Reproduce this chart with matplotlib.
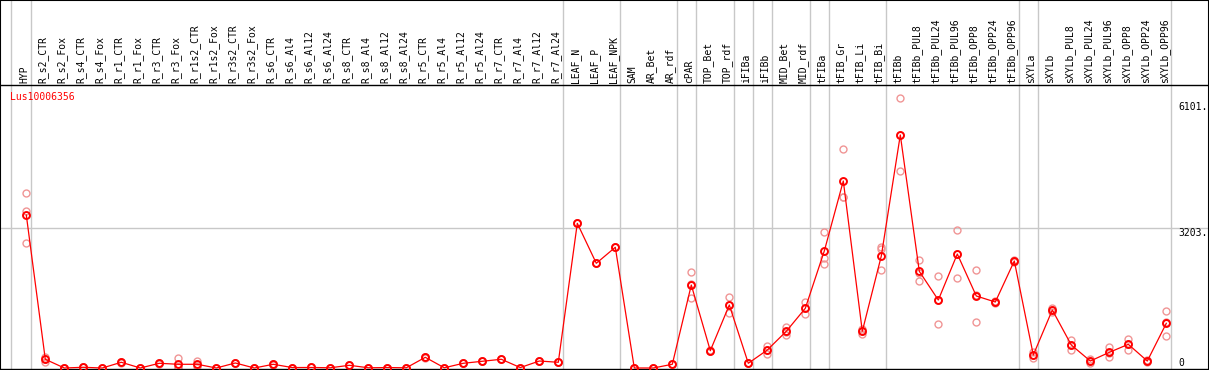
# Expression profile of Lus10006356 across samples

import numpy as np
import matplotlib.pyplot as plt

# Sample names (x axis)
samples = [
    "HYP",
    "R_s2_CTR", "R_s2_Fox", "R_s4_CTR", "R_s4_Fox", "R_r1_CTR", "R_r1_Fox",
    "R_r3_CTR", "R_r3_Fox", "R_r1s2_CTR", "R_r1s2_Fox", "R_r3s2_CTR", "R_r3s2_Fox",
    "R_s6_CTR", "R_s6_Al4", "R_s6_Al12", "R_s6_Al24",
    "R_s8_CTR", "R_s8_Al4", "R_s8_Al12", "R_s8_Al24",
    "R_r5_CTR", "R_r5_Al4", "R_r5_Al12", "R_r5_Al24",
    "R_r7_CTR", "R_r7_Al4", "R_r7_Al12", "R_r7_Al24",
    "LEAF_N", "LEAF_P", "LEAF_NPK",
    "SAM", "AR_Bet", "AR_rdf",
    "cPAR",
    "TOP_Bet", "TOP_rdf",
    "iFIBa", "iFIBb",
    "MID_Bet", "MID_rdf",
    "tFIBa",
    "tFIB_Gr", "tFIB_Li", "tFIB_Bi",
    "tFIBb", "tFIBb_PUL8", "tFIBb_PUL24", "tFIBb_PUL96",
    "tFIBb_OPP8", "tFIBb_OPP24", "tFIBb_OPP96",
    "sXYLa",
    "sXYLb", "sXYLb_PUL8", "sXYLb_PUL24", "sXYLb_PUL96",
    "sXYLb_OPP8", "sXYLb_OPP24", "sXYLb_OPP96",
]

# Number of samples in each group (separated by gray lines)
group_sizes = [1, 28, 3, 3, 1, 2, 1, 1, 2, 1, 3, 7, 1, 7]

# Mean expression
means = [3508, 200, 0, 16, 0, 131, 0, 108, 85, 85, 0, 115, 0, 85, 10, 12,
         5, 62, 5, 10, 5, 245, 5, 108, 154, 200, 10, 160, 131,
         3318, 2401, 2768, 0, 0, 85, 1903, 397, 1445, 108, 413, 842, 1369,
         2683, 4288, 842, 2568, 5343, 2217, 1559, 2614, 1651, 1513, 2454,
         298, 1330, 527, 160, 359, 543, 160, 1025]

# Replicates
rep_hi = [4006, 259, 0, 16, 0, 140, 0, 115, 222, 167, 0, 125, 0, 90, 10, 12,
          5, 62, 5, 10, 5, 250, 5, 108, 154, 205, 10, 160, 131,
          3318, 2401, 2768, 0, 0, 85, 2194, 420, 1621, 108, 511, 947, 1507,
          3112, 5022, 888, 2768, 6184, 2476, 2110, 3164, 2240, 1540, 2480,
          374, 1383, 642, 214, 474, 672, 190, 1300]
rep_lo = [2859, 144, 0, 16, 0, 120, 0, 100, 15, 40, 0, 105, 0, 80, 10, 12,
          5, 62, 5, 10, 5, 240, 5, 108, 154, 195, 10, 160, 131,
          3318, 2401, 2768, 0, 0, 85, 1598, 380, 1268, 108, 321, 764, 1231,
          2378, 3928, 780, 2247, 4510, 1988, 1002, 2057, 1048, 1490, 2430,
          222, 1277, 413, 108, 259, 405, 135, 727]
rep_mid = [3600, 200, 0, 16, 0, 131, 0, 108, 18, 48, 0, 115, 0, 85, 10, 12,
           5, 62, 5, 10, 5, 245, 5, 108, 154, 200, 10, 160, 131,
           3318, 2401, 2768, 0, 0, 85, 1917, 390, 1446, 108, 407, 815, 1369,
           2529, 3914, 858, 2729, 5335, 2187, 1565, 2621, 1665, 1509, 2454,
           298, 1330, 527, 160, 344, 552, 155, 1048]

# Y axis labels
y_ticks = [6101, 3203, 0]
gene = "Lus10006356"

x = np.arange(len(samples))
mono = "DejaVu Sans Mono"
grid_col = "#c8c8c8"

fig = plt.figure(figsize=(12.09, 3.70), dpi=100)
ax = fig.add_axes([0, 1 / 370, 1, 369 / 370])
ax.set_xlim(-1.384, 62.247)
ax.set_ylim(-23, 8438)
ax.set_xticks([])
ax.set_yticks([])
for s in ax.spines.values():
    s.set_color("black")
    s.set_linewidth(1.5)
ax.spines["bottom"].set_linewidth(1.0)

# Group separators
bounds = [-0.82] + list(np.cumsum(group_sizes) - 1 + 0.23)
for b in bounds:
    ax.axvline(b, color=grid_col, lw=1, zorder=0)
ax.axhline(y_ticks[1], color=grid_col, lw=1, zorder=0)

# Header line and sample labels
ax.plot([0, 1], [(369 - 85) / 369] * 2, transform=ax.transAxes,
        color="black", lw=1, clip_on=False)
trans = ax.get_xaxis_transform()
for i, name in enumerate(samples):
    ax.text(i - 0.1, (369 - 83) / 369, name, rotation=90, rotation_mode="anchor",
            ha="left", va="center", transform=trans, family=mono, fontsize=7)

ax.text(-0.86, (369 - 97) / 369, gene, color="red", transform=trans,
        ha="left", va="center", family=mono, fontsize=7)

# Replicate points
for rep in [rep_hi, rep_mid, rep_lo]:
    ax.plot(x, rep, "o", ms=5, mfc="none", mec="#f09595", mew=1.0, zorder=2)

# Mean line
ax.plot(x, means, "-", color="red", lw=0.9, zorder=3)
ax.plot(x, means, "o", ms=5, mfc="none", mec="red", mew=1.4, zorder=4)

# Value labels on the right
ax.text(60.62, y_ticks[0], "6101.", ha="left", va="top", family=mono, fontsize=7)
ax.text(60.62, y_ticks[1], "3203.", ha="left", va="top", family=mono, fontsize=7)
ax.text(60.66, y_ticks[2], "0", ha="left", va="bottom", family=mono, fontsize=7)

fig.savefig("out.png", dpi=100)
